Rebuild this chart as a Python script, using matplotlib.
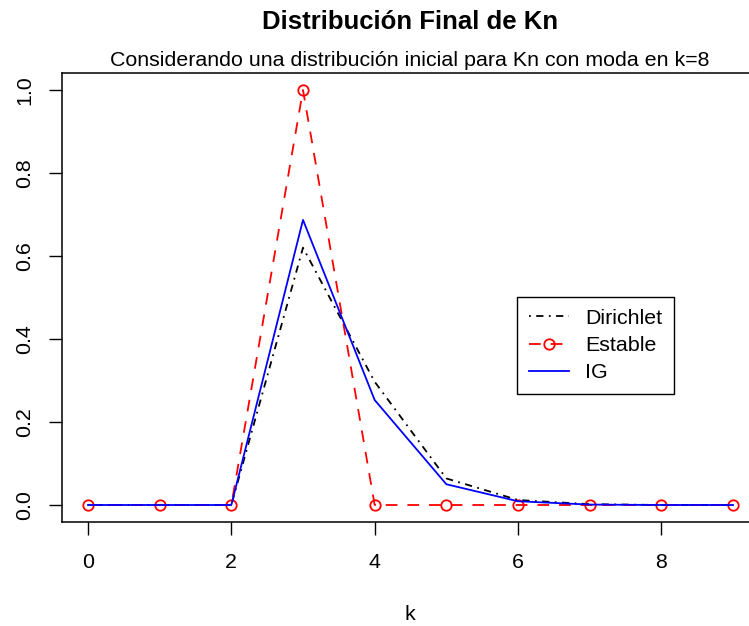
import matplotlib
matplotlib.use("Agg")
import matplotlib.pyplot as plt

# ── data ──────────────────────────────────────
k = [0, 1, 2, 3, 4, 5, 6, 7, 8, 9]
dirichlet = [0, 0, 0, 0.62, 0.297, 0.064, 0.012, 0.002, 0, 0]
estable = [0, 0, 0, 1.0, 0, 0, 0, 0, 0, 0]
ig = [0, 0, 0, 0.687, 0.253, 0.05, 0.009, 0.001, 0, 0]

xticks = [0, 2, 4, 6, 8]
yticks = [0.0, 0.2, 0.4, 0.6, 0.8, 1.0]

W, H = 749, 626
FS = 15.4
plt.rcParams["font.family"] = ["Liberation Sans", "DejaVu Sans"]

fig = plt.figure(figsize=(W / 100, H / 100), dpi=100)
# axes box in pixels: left 62, right 759 (cut off), top 73.4, bottom 521.6
ax = fig.add_axes([62.2 / W, 1 - 521.6 / H, (758.8 - 62.2) / W, (521.6 - 73.4) / H])

lw = 1.3
ax.plot(k, dirichlet, color="black", lw=lw, dashes=(1, 3, 4, 3), label="Dirichlet")
ax.plot(k, estable, color="red", lw=lw, dashes=(6.5, 5.5), marker="o",
        markersize=7.5, markerfacecolor="none", markeredgewidth=1.3, label="Estable")
ax.plot(k, ig, color="blue", lw=lw, label="IG")

# R style limits (4% padding)
ax.set_xlim(-0.36, 9.36)
ax.set_ylim(-0.04, 1.04)
ax.set_xticks(xticks)
ax.set_xticklabels([str(t) for t in xticks])
ax.set_yticks(yticks)
ax.set_yticklabels([f"{t:.1f}" for t in yticks], rotation=90, va="center")
ax.tick_params(length=9.4, width=1.0, labelsize=FS, pad=10.5)
ax.tick_params(axis="x", pad=13)
for s in ax.spines.values():
    s.set_linewidth(1.1)

leg = ax.legend(loc="upper left", bbox_to_anchor=(517 / W, 1 - 297 / H),
                bbox_transform=fig.transFigure, borderaxespad=0, fancybox=False,
                edgecolor="black", framealpha=1, fontsize=FS,
                handlelength=1.9, handletextpad=0.75, labelspacing=0.39,
                borderpad=0.55)
leg.get_frame().set_linewidth(1.0)

fig.text(410 / W, 1 - 29 / H, "Distribución Final de Kn", ha="center",
         va="baseline", fontsize=18.5, fontweight="bold")
fig.text(410 / W, 1 - 66 / H,
         "Considerando una distribución inicial para Kn con moda en k=8",
         ha="center", va="baseline", fontsize=FS)
fig.text(410 / W, 1 - 620 / H, "k", ha="center", va="baseline", fontsize=FS)

fig.savefig("out.png", dpi=100)
